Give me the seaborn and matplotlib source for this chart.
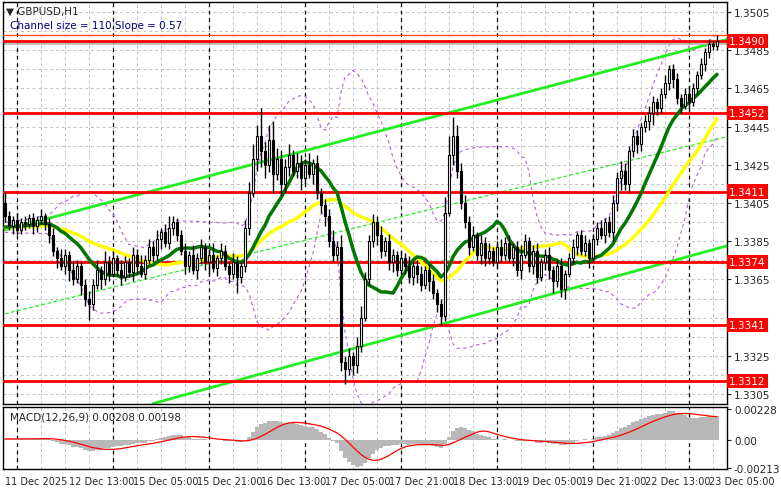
import numpy as np
import pandas as pd
import matplotlib
matplotlib.use("Agg")
import matplotlib.pyplot as plt
import seaborn as sns
from matplotlib.patches import Rectangle

closes = [1.3398,1.3393,1.3396,1.3391,1.3395,1.3394,1.3397,1.3393,1.3396,1.3398,1.3394,
 1.3388,1.3380,1.3376,1.3372,1.3378,1.3370,1.3365,1.3372,1.3362,1.3355,1.3352,
 1.3362,1.3370,1.3365,1.3374,1.3368,1.3376,1.3370,1.3366,1.3374,1.3369,1.3378,1.3372,1.3368,1.3375,
 1.3382,1.3378,1.3386,1.3390,1.3384,1.3392,1.3395,1.3388,1.3380,
 1.3372,1.3378,1.3370,1.3376,1.3382,1.3374,1.3378,1.3371,1.3376,1.3380,1.3372,1.3368,1.3374,1.3366,1.3372,
 1.3392,1.3410,1.3428,1.3440,1.3432,1.3425,
 1.3438,1.3420,1.3428,1.3415,1.3424,1.3430,1.3422,1.3426,1.3418,1.3425,1.3420,1.3426,1.3410,1.3404,
 1.3398,1.3385,1.3378,1.3382,1.3322,
 1.3318,1.3325,1.3320,1.3330,1.3345,1.3365,1.3385,
 1.3395,1.3388,1.3380,1.3385,1.3374,1.3378,1.3370,1.3376,1.3372,1.3366,1.3372,1.3368,1.3362,1.3370,1.3364,1.3358,1.3352,1.3346,
 1.3400,1.3430,1.3440,1.3422,1.3405,
 1.3395,1.3382,1.3388,1.3378,1.3384,1.3376,1.3380,1.3374,1.3382,1.3378,
 1.3384,1.3376,1.3382,1.3370,1.3378,1.3385,1.3372,1.3380,1.3366,1.3374,1.3378,1.3370,1.3364,1.3372,1.3360,1.3368,1.3376,1.3382,1.3388,1.3380,1.3384,1.3376,1.3386,
 1.3392,1.3388,1.3395,1.3390,1.3405,1.3418,1.3422,1.3415,1.3432,1.3440,1.3436,1.3445,
 1.3448,1.3452,1.3458,1.3455,1.3462,1.3468,1.3475,1.3470,
 1.3460,1.3456,1.3462,1.3458,
 1.3465,1.3472,1.3478,1.3484,1.3488,1.3487,1.3490]
first_open = 1.3405
# wick extensions in pips
upper_wick = [6,3,2,4,2,3,2,3,2,4,2, 3,4,2,5,3,2,4,3,2,3,4, 3,5,2,6,3,4,2,5,3,2,4,3,6,3,
 4,3,5,2,4,6,3,2,3, 4,2,5,3,4,2,3,6,2,4,3,2,5,3,2,
 4,6,8,6,15,5, 8,10,6,5,4,6,3,5,4,3,6,2,4,3, 3,4,6,3,6,
 3,4,2,5,6,4,3, 4,3,5,2,4,3,2,4,3,5,2,3,4,2,3,4,2,3,
 8,10,10,6,4, 4,3,5,2,4,3,4,2,3,4, 3,4,2,3,5,4,2,3,4,2,3,4,2,3,4,2,3,4,2,3,4,2,3,
 3,4,2,3,4,3,5,4,3,4,3,2, 3,4,3,2,3,4,2,3, 3,2,3,4, 3,2,3,2,3,2,3]
lower_wick = [3,2,4,3,2,3,2,4,3,2,3, 4,3,5,2,4,6,3,2,5,4,8, 3,2,5,3,4,2,3,4,2,3,5,4,2,3,
 2,4,3,5,2,3,4,3,2, 4,3,2,5,3,4,6,2,4,3,2,5,3,8,3,
 3,4,2,6,8,7, 4,10,3,6,4,5,3,4,6,3,2,5,3,4, 5,3,4,3,5,
 8,3,5,4,3,2,3, 3,5,4,3,4,5,3,2,4,3,4,5,3,2,5,3,4,5,
 3,2,5,4,3, 3,4,2,3,5,4,3,2,3,4, 3,2,4,3,5,2,3,4,3,2,4,5,6,3,4,5,2,3,4,2,3,5,2,
 3,2,4,3,5,4,6,3,4,3,5,4, 3,5,6,4,3,2,4,5, 3,4,2,3, 2,3,2,4,3,2,2]
dates = ["11 Dec 2025","12 Dec 13:00","15 Dec 05:00","15 Dec 21:00","16 Dec 13:00","17 Dec 05:00",
         "17 Dec 21:00","18 Dec 13:00","19 Dec 05:00","19 Dec 21:00","22 Dec 13:00","23 Dec 05:00"]
day_breaks = [3,27,51,75,99,123,147,171]
levels = [1.3490,1.3452,1.3411,1.3374,1.3341,1.3312]
upper_channel = [1.3391,1.3492]
lower_channel = [1.3300,1.3384]
mid_channel = [1.3347,1.3441]
chan_x = [0,183]
lower_x = [37,183]
price_ticks = [1.3505,1.3485,1.3465,1.3445,1.3425,1.3405,1.3385,1.3365,1.3325,1.3305]
macd_ticks = [0.00228,0.0,-0.00213]
macd_ticklabels = ["0.00228","0.00","-0.00213"]
macd_label = "MACD(12,26,9) 0.00208 0.00198"

c = np.array(closes)
n = len(c)
o = np.concatenate([[first_open], c[:-1]])
hi = np.maximum(o, c) + np.array(upper_wick[:n]) * 1e-4
lo = np.minimum(o, c) - np.array(lower_wick[:n]) * 1e-4
idx = np.arange(n)
s = pd.Series(c)
ext = pd.concat([pd.Series([1.3392]*30), s], ignore_index=True)
ma_g = ext.rolling(14).mean().iloc[30:].values
ma_y = ext.rolling(30).mean().iloc[30:].values
bb_m = ext.rolling(20).mean().iloc[30:].values
bb_s = ext.rolling(20).std().iloc[30:].values
ema12 = ext.ewm(span=12, adjust=False).mean().iloc[30:].values
ema26 = ext.ewm(span=26, adjust=False).mean().iloc[30:].values
macd = ema12 - ema26
signal = pd.Series(macd).rolling(9, min_periods=1).mean().values

sns.set_style("white")
plt.rcParams['font.family'] = ['DejaVu Sans']
fig = plt.figure(figsize=(7.81, 4.89), dpi=100)
W, H = 781, 489
ax = fig.add_axes([3/W, 1-405/H, 724/W, 402/H])
axm = fig.add_axes([3/W, 1-470/H, 724/W, 62/H], sharex=ax)
y2p = lambda y: 1.3505 - (y-13)/19100
ax.set_ylim(y2p(405), y2p(3))
ax.set_xlim(-0.5, 180.5)

for a in (ax, axm):
    for sp in a.spines.values():
        sp.set_color("black"); sp.set_linewidth(1)
    for xb in range(3, n, 6):
        a.axvline(xb, color="#c0c0c0", ls=(0,(3,3)), lw=0.7, zorder=0)
    for xb in day_breaks:
        a.axvline(xb, color="black", ls=(0,(3,3)), lw=0.9, zorder=1)
for p in np.arange(1.3305, 1.3510, 0.0010):
    ax.axhline(p, color="#c0c0c0", ls=(0,(3,3)), lw=0.7, zorder=0)

ax.plot(idx, bb_m + 2*bb_s, color="#b45ee0", ls=(0,(3,3)), lw=0.8)
ax.plot(idx, bb_m - 2*bb_s, color="#b45ee0", ls=(0,(3,3)), lw=0.8)
ax.plot(chan_x, upper_channel, color="#22ee22", lw=2)
ax.plot(lower_x, lower_channel, color="#22ee22", lw=2)
ax.plot(chan_x, mid_channel, color="#22ee22", lw=0.9, ls=(0,(3,2)))
for lv in levels:
    ax.axhline(lv, color="#ff0000", lw=2, zorder=3)
ax.axhline(1.3493, color="#ff5000", lw=1, zorder=3)
ax.axhline(1.34885, color="#b0b0b0", lw=1.2, zorder=2)

sns.lineplot(x=idx, y=ma_y, ax=ax, color="#ffff00", lw=2.5, zorder=4)
sns.lineplot(x=idx, y=ma_g, ax=ax, color="#007700", lw=2.5, zorder=4)

for i in range(n):
    ax.vlines(i, lo[i], hi[i], color="black", lw=1, zorder=5)
    b0, b1 = min(o[i], c[i]), max(o[i], c[i])
    up = c[i] >= o[i]
    ax.add_patch(Rectangle((i-0.35, b0), 0.7, max(b1-b0, 0.00005),
                 facecolor="white" if up else "black", edgecolor="black", lw=0.8, zorder=6))

ax.yaxis.tick_right()
ax.set_yticks(price_ticks)
ax.set_yticklabels([f"{p:.4f}" for p in price_ticks], fontsize=7.5)
ax.tick_params(axis="y", length=3, pad=2)
ax.tick_params(axis="x", bottom=False, labelbottom=False)
for lv in levels:
    ax.text(1.003, lv, f"{lv:.4f}", transform=ax.get_yaxis_transform(), va="center", ha="left",
            fontsize=7.5, color="white", bbox=dict(boxstyle="square,pad=0.2", fc="#ff0000", ec="none"), clip_on=False)
ax.text(0.004, 0.99, "▼ GBPUSD,H1", transform=ax.transAxes, va="top", fontsize=7.5)
ax.text(0.009, 0.955, "Channel size = 110 Slope = 0.57", transform=ax.transAxes, va="top", fontsize=7.5, color="#000080")

axm.bar(idx, macd, width=0.8, color="#b8b8b8", linewidth=0, zorder=2)
axm.plot(idx, signal, color="#ff0000", lw=0.9, zorder=3)
lim = max(abs(macd).max(), 0.0001)*1.1
axm.set_ylim(-lim*0.95, lim*1.05)
axm.yaxis.tick_right()
scale = lim / 0.00235
axm.set_yticks([t*scale for t in macd_ticks])
axm.set_yticklabels(macd_ticklabels, fontsize=7.5)
axm.tick_params(axis="y", length=3, pad=2)
axm.text(0.01, 0.93, macd_label, transform=axm.transAxes, va="top", fontsize=7.5)
axm.set_xticks(np.arange(0, 177, 16))
axm.set_xticklabels(dates, fontsize=7, ha="left")
axm.tick_params(axis="x", length=3, pad=2)
fig.savefig("out.png", dpi=100)
